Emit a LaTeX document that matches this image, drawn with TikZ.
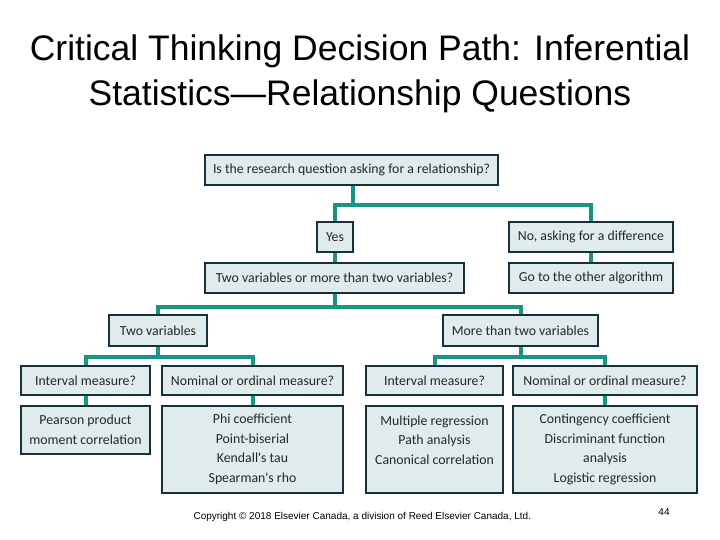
\documentclass[tikz,border=0pt]{standalone}
\usepackage{fontspec}
\usetikzlibrary{backgrounds}
\setmainfont{Liberation Sans}
\newfontfamily\boxfont{Carlito}
\definecolor{boxfill}{HTML}{E0ECEB}
\definecolor{boxline}{HTML}{17303E}
\definecolor{tealc}{HTML}{189483}
\tikzset{
  box/.style={draw=boxline, line width=1.8pt, fill=boxfill, inner sep=0pt,
    font=\boxfont\fontsize{13.8}{19.5}\selectfont, align=center, text=black!85},
  link/.style={draw=tealc, line width=4pt, line cap=rect}
}
\begin{document}
\begin{tikzpicture}[x=1pt,y=-1pt]
\useasboundingbox (0,0) rectangle (720,540);
\node[font=\fontsize{35.5}{45}\selectfont, align=center] (title) at (360,74)
  {Critical Thinking Decision Path: Inferential\\Statistics---Relationship Questions};

\coordinate (j1) at (353,205);
\coordinate (j2) at (335,307);
\coordinate (j3) at (158,357);
\coordinate (j4) at (521,357);

\node[box, minimum width=293, minimum height=30] (q) at (351.5,170) {Is the research question asking for a relationship?};
\node[box, minimum width=36, minimum height=30] (yes) at (335,237) {Yes};
\node[box, minimum width=164, minimum height=30] (no) at (591,237) {No, asking for a difference};
\node[box, minimum width=164, minimum height=30] (go) at (591,278) {Go to the other algorithm};
\node[box, minimum width=259, minimum height=30] (tm) at (334.5,278) {Two variables or more than two variables?};
\node[box, minimum width=98, minimum height=31] (two) at (158,330.5) {Two variables};
\node[box, minimum width=155, minimum height=31] (more) at (520.5,330.5) {More than two variables};
\node[box, minimum width=129, minimum height=29] (intL) at (85.5,380.5) {Interval measure?};
\node[box, minimum width=181, minimum height=29] (nomL) at (252.5,380.5) {Nominal or ordinal measure?};
\node[box, minimum width=137, minimum height=29] (intR) at (434.5,380.5) {Interval measure?};
\node[box, minimum width=184, minimum height=29] (nomR) at (605,380.5) {Nominal or ordinal measure?};
\node[box, minimum width=129, minimum height=48] (pear) at (85.5,430) {Pearson product\\moment correlation};
\node[box, minimum width=181, minimum height=87] (phi) at (252.5,449.5) {Phi coefficient\\Point-biserial\\Kendall's tau\\Spearman's rho};
\node[box, minimum width=137, minimum height=87] (mult) at (434.5,449.5) {Multiple regression\\Path analysis\\Canonical correlation\\\mbox{}};
\node[box, minimum width=184, minimum height=87] (cont) at (605,449.5) {Contingency coefficient\\Discriminant function\\analysis\\Logistic regression};

\begin{scope}[on background layer]
\path[link] (q.south -| j1) -- (j1) -- (j1 -| yes) -- (yes.north);
\path[link] (j1) -- (j1 -| no) -- (no.north);
\path[link] (no.south) -- (go.north);
\path[link] (yes.south) -- (tm.north -| yes);
\path[link] (tm.south -| j2) -- (j2) -- (j2 -| two) -- (two.north);
\path[link] (j2) -- (j2 -| more) -- (more.north);
\path[link] (two.south) -- (j3) -- (j3 -| intL) -- (intL.north);
\path[link] (j3) -- (j3 -| nomL) -- (nomL.north);
\path[link] (more.south -| j4) -- (j4) -- (j4 -| intR) -- (intR.north);
\path[link] (j4) -- (j4 -| nomR) -- (nomR.north);
\path[link] (intL.south) -- (pear.north);
\path[link] (nomL.south) -- (phi.north);
\path[link] (nomR.south) -- (cont.north);
\end{scope}

\node[font=\fontsize{10}{12}\selectfont, anchor=west] (copy) at (190,517) {Copyright \textcopyright{} 2018 Elsevier Canada, a division of Reed Elsevier Canada, Ltd.};
\node[font=\fontsize{10}{12}\selectfont] (page) at (664,512) {44};
\end{tikzpicture}
\end{document}
